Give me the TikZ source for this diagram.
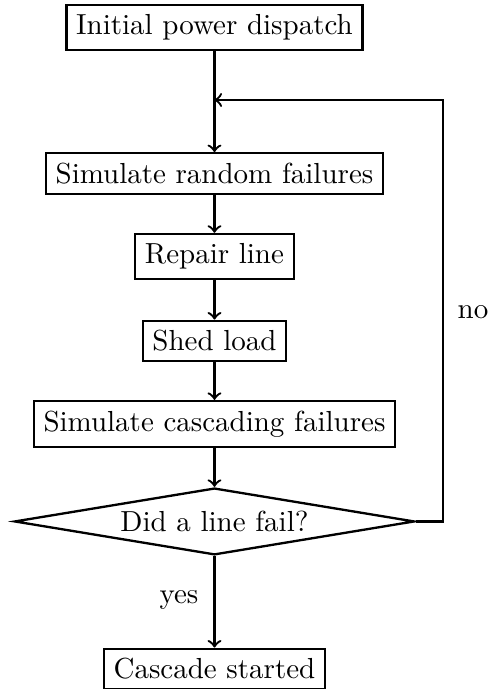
\documentclass[tikz,border=0pt]{standalone}
\usepackage{tikz}
\usetikzlibrary{shapes.geometric}

\begin{document}
\begin{tikzpicture}[thick]

    \tikzset{
        box/.style={draw, rectangle},
        decision/.style={draw, diamond, aspect=6, inner sep=1pt,
            minimum width=4.85cm, minimum height=0.81cm}
    }
    \useasboundingbox (-2.6, 0) rectangle (3.34, -8.352);

    % Steps
    \node[box] (init) at (0, -0.333) {Initial power dispatch};
    \node[box] (random) at (0, -2.103) {Simulate random failures};
    \node[box] (repair) at (0, -3.109) {Repair line};
    \node[box] (shed) at (0, -4.133) {Shed load};
    \node[box] (cascading) at (0, -5.139) {Simulate cascading failures};
    \node[decision] (fail) at (0, -6.321) {Did a line fail?};
    \node[box] (started) at (0, -8.109) {Cascade started};

    % Loop back points
    \coordinate (join) at (0, -1.212);
    \coordinate (back) at (2.77, -1.212);

    % Labels
    \node (nolabel) at (3.133, -3.782) {no};
    \node (yeslabel) at (-0.43, -7.273) {yes};

    % Arrows
    \draw[->] (init) -- (random);
    \draw[->] (random) -- (repair);
    \draw[->] (repair) -- (shed);
    \draw[->] (shed) -- (cascading);
    \draw[->] (cascading) -- (fail);
    \draw[->] (fail) -- (started);
    \draw[->] (fail.east) -| (back) -- (join);

\end{tikzpicture}
\end{document}
